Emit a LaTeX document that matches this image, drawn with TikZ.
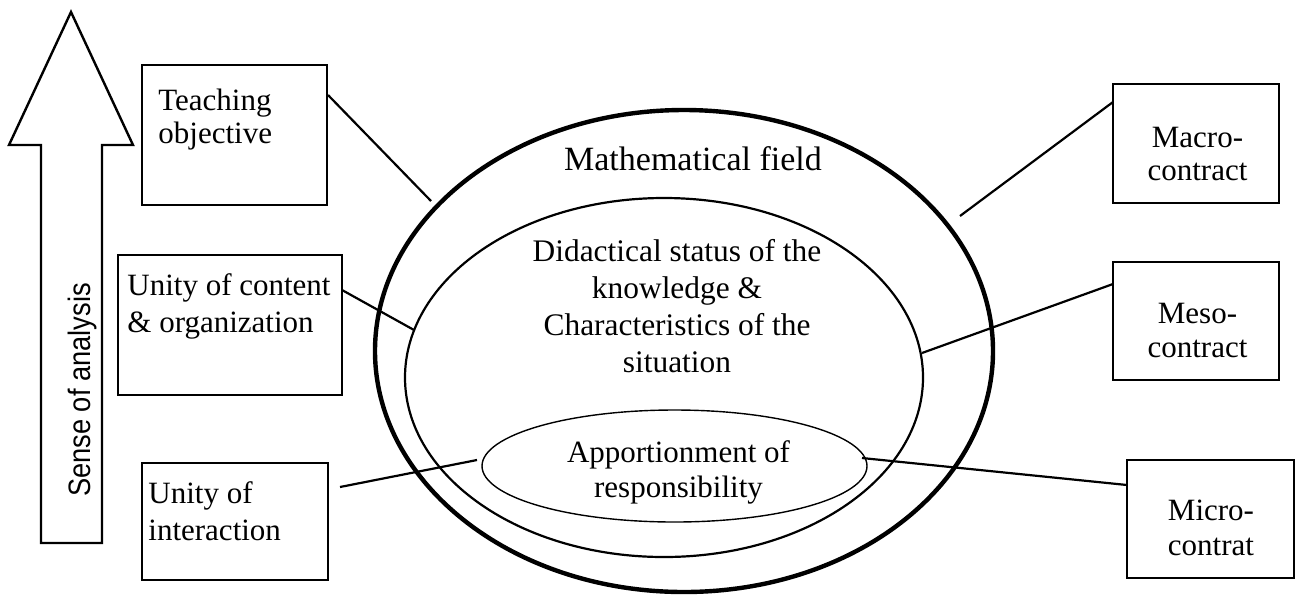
\documentclass[tikz,border=0pt]{standalone}
\usepackage{fontspec}
\setmainfont{Liberation Serif}
\newfontfamily\sansfont{Liberation Sans}
\usetikzlibrary{shapes.geometric}
\begin{document}
\begin{tikzpicture}[x=0.5pt,y=-0.5pt,
  box/.style={draw,line width=1.3pt,inner sep=0pt},
  txt/.style={inner sep=0pt},
  conn/.style={line width=1.1pt},
  ell/.style={draw,ellipse,inner sep=0pt}]
\useasboundingbox (0,0) rectangle (1295,596);
% sense of analysis arrow
\draw[line width=1.2pt,line join=miter] (41,543) -- (41,145) -- (9,145) -- (71,12) -- (133,145) -- (102,145) -- (102,543) -- cycle;
\node[inner sep=0pt,rotate=90,anchor=base,font=\sansfont\fontsize{15.5}{17}\selectfont] (sense) at (90,390) {\scalebox{0.88}[1]{Sense of analysis}};
% boxes
\node[box,minimum width=92.5pt,minimum height=70pt] (to) at (234.5,135) {};
\node[box,minimum width=112pt,minimum height=70pt] (uc) at (230,325) {};
\node[box,minimum width=93pt,minimum height=58.5pt] (ui) at (235,521.5) {};
\node[box,minimum width=83pt,minimum height=59.5pt] (mac) at (1196,143.5) {};
\node[box,minimum width=83pt,minimum height=59pt] (mes) at (1196,321) {};
\node[box,minimum width=83.5pt,minimum height=59pt] (mic) at (1210.5,519) {};
% box texts (anchor = baseline of the last line)
\node[txt,align=left,anchor=base west,font=\fontsize{15.5}{16.5}\selectfont] (tot) at (158,143) {Teaching\\objective};
\node[txt,align=left,anchor=base west,font=\fontsize{15.5}{18.5}\selectfont] (uct) at (127,332) {Unity of content\\\& organization};
\node[txt,align=left,anchor=base west,font=\fontsize{15.5}{18.5}\selectfont] (uit) at (148,540) {Unity of\\interaction};
\node[txt,align=center,anchor=base,font=\fontsize{15.5}{16.5}\selectfont] (mact) at (1197.5,180) {Macro-\\contract};
\node[txt,align=center,anchor=base,font=\fontsize{15.5}{17}\selectfont] (mest) at (1197.5,357) {Meso-\\contract};
\node[txt,align=center,anchor=base,font=\fontsize{15.5}{17.5}\selectfont] (mict) at (1211,555) {Micro-\\contrat};
% ellipses
\node[ell,line width=2.2pt,minimum width=309pt,minimum height=241pt] (outer) at (684,351) {};
\node[ell,line width=1.1pt,minimum width=259pt,minimum height=179.5pt] (inner) at (664,377.5) {};
\node[ell,line width=0.7pt,minimum width=192.5pt,minimum height=56pt] (small) at (674.5,466) {};
\node[txt,anchor=base,font=\fontsize{17}{19}\selectfont] (mf) at (693,170) {Mathematical field};
\node[txt,align=center,anchor=base,font=\fontsize{15.7}{18.35}\selectfont] (ds) at (677,372) {Didactical status of the\\knowledge \&\\Characteristics of the\\situation};
\node[txt,align=center,anchor=base,font=\fontsize{15.5}{17.5}\selectfont] (ap) at (678.5,497) {Apportionment of\\responsibility};
% connector ends
\coordinate (e1) at (431,201);
\coordinate (e2) at (414,330);
\coordinate (e3) at (477,460);
\coordinate (e4) at (960,216);
\coordinate (e5) at (922,353);
\coordinate (e6) at (862,458);
\coordinate (s1) at (328,95);
\coordinate (s2) at (342,290);
\coordinate (s3) at (340,487);
\coordinate (s4) at (1113,102);
\coordinate (s5) at (1113,284);
\coordinate (s6) at (1127,485);
\draw[conn] (s1) -- (e1);
\draw[conn] (s2) -- (e2);
\draw[conn] (s3) -- (e3);
\draw[conn] (s4) -- (e4);
\draw[conn] (s5) -- (e5);
\draw[conn] (s6) -- (e6);
\end{tikzpicture}
\end{document}
